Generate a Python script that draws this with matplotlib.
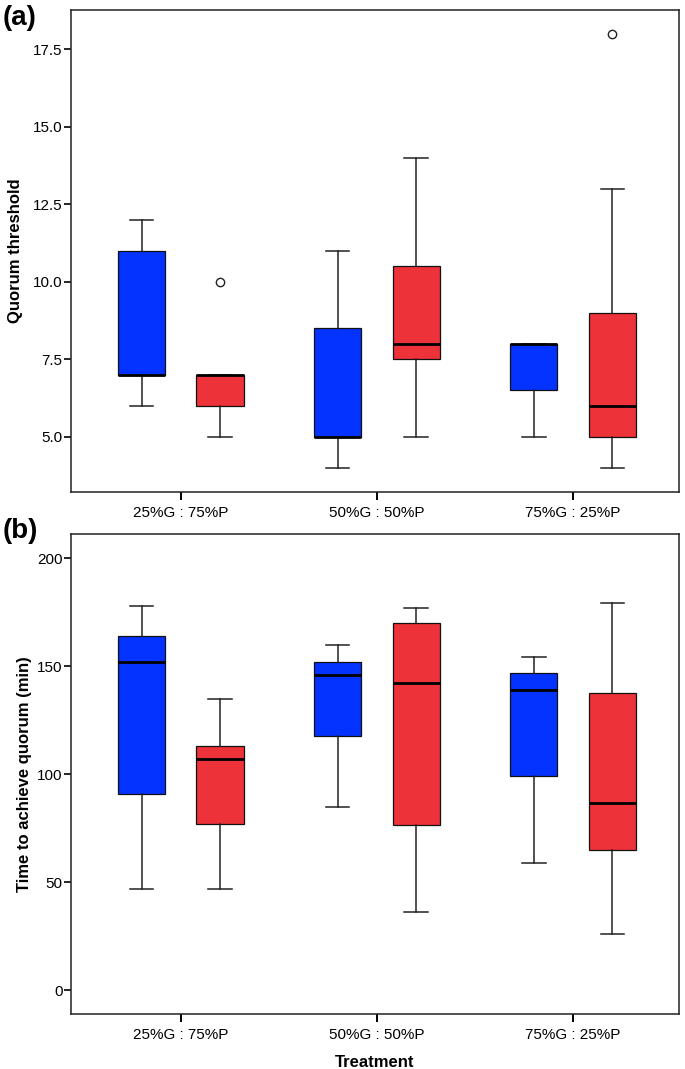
import matplotlib
matplotlib.use("Agg")
import matplotlib.pyplot as plt

plt.rcParams["font.family"] = ["Liberation Sans", "DejaVu Sans"]

groups = ["25%G : 75%P", "50%G : 50%P", "75%G : 25%P"]

# five numbers per box: low whisker, q1, median, q3, high whisker
quorum_blue = [[6, 7, 7, 11, 12], [4, 5, 5, 8.5, 11], [5, 6.5, 8, 8, 8]]
quorum_red = [[5, 6, 7, 7, 7], [5, 7.5, 8, 10.5, 14], [4, 5, 6, 9, 13]]
quorum_blue_out = [[], [], []]
quorum_red_out = [[10], [], [18]]

time_blue = [[47, 91, 152, 164, 178], [85, 117.5, 146, 152, 160], [59, 99, 139, 147, 154]]
time_red = [[47, 77, 107, 113, 135], [36, 76.5, 142, 170, 177], [26, 65, 86.5, 137.5, 179]]
time_blue_out = [[], [], []]
time_red_out = [[], [], []]

blue = "#0433ff"
red = "#ee3239"


def make_stats(five, outliers):
    stats = []
    for f, o in zip(five, outliers):
        stats.append({"whislo": f[0], "q1": f[1], "med": f[2], "q3": f[3],
                      "whishi": f[4], "fliers": o})
    return stats


def draw_boxes(ax, five, outliers, color, shift):
    pos = [i + shift for i in range(len(five))]
    ax.bxp(make_stats(five, outliers), positions=pos, widths=0.24,
           capwidths=0.12, patch_artist=True, showfliers=True,
           boxprops=dict(facecolor=color, edgecolor="#111111", linewidth=0.9),
           medianprops=dict(color="black", linewidth=2.0),
           whiskerprops=dict(color="#222222", linewidth=1.1),
           capprops=dict(color="#222222", linewidth=1.1),
           flierprops=dict(marker="o", markerfacecolor="none",
                           markeredgecolor="#222222", markersize=6,
                           markeredgewidth=1.0))


def style_axes(ax):
    ax.set_xlim(-0.56, 2.54)
    ax.set_xticks(range(len(groups)))
    ax.set_xticklabels(groups, fontsize=11)
    for s in ax.spines.values():
        s.set_linewidth(1.1)
        s.set_color("#222222")
    ax.tick_params(axis="x", length=6, width=1.4, pad=4, labelsize=11)
    ax.tick_params(axis="y", length=5, width=1.2, pad=1, labelsize=11)


fig = plt.figure(figsize=(6.85, 10.69), dpi=100)

ax1 = fig.add_axes([0.1036, 0.5398, 0.8876, 0.4509])
draw_boxes(ax1, quorum_blue, quorum_blue_out, blue, -0.2)
draw_boxes(ax1, quorum_red, quorum_red_out, red, 0.2)
style_axes(ax1)
ax1.set_ylim(3.22, 18.77)
ax1.set_yticks([5.0, 7.5, 10.0, 12.5, 15.0, 17.5])
ax1.set_yticklabels(["5.0", "7.5", "10.0", "12.5", "15.0", "17.5"])
ax1.set_ylabel("Quorum threshold", fontsize=12, fontweight="bold", va="center")
ax1.yaxis.set_label_coords(-0.092, 0.5)

ax2 = fig.add_axes([0.1036, 0.0514, 0.8876, 0.4488])
draw_boxes(ax2, time_blue, time_blue_out, blue, -0.2)
draw_boxes(ax2, time_red, time_red_out, red, 0.2)
style_axes(ax2)
ax2.set_ylim(-11, 211)
ax2.set_yticks([0, 50, 100, 150, 200])
ax2.set_ylabel("Time to achieve quorum (min)", fontsize=12, fontweight="bold", va="center")
ax2.yaxis.set_label_coords(-0.076, 0.5)
ax2.set_xlabel("Treatment", fontsize=12, fontweight="bold", va="center")
ax2.xaxis.set_label_coords(0.5, -0.1)

fig.text(0.004, 0.983, "(a)", fontsize=20, fontweight="bold", va="center", ha="left")
fig.text(0.004, 0.503, "(b)", fontsize=20, fontweight="bold", va="center", ha="left")

fig.savefig("out.png", dpi=100)
